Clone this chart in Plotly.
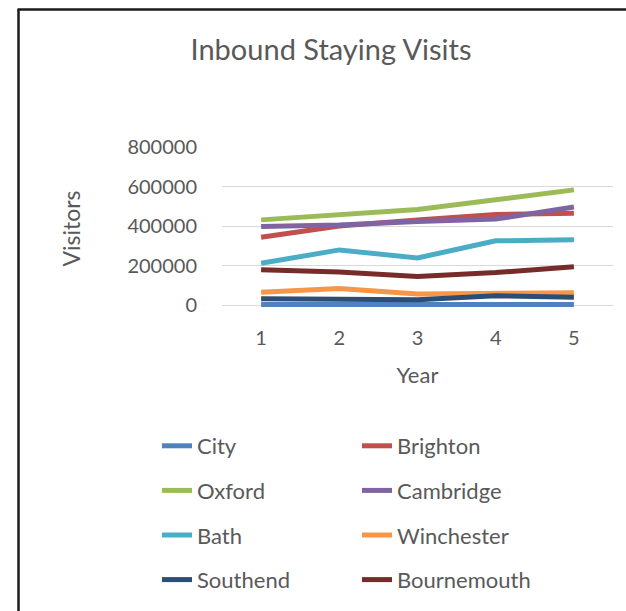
import plotly.graph_objects as go

years = [1, 2, 3, 4, 5]
year_labels = ["1", "2", "3", "4", "5"]

city = [3000, 3000, 3000, 3000, 3000]
brighton = [343000, 400000, 431000, 458000, 465000]
oxford = [431000, 458000, 484000, 533000, 583000]
cambridge = [397000, 405000, 423000, 435000, 496000]
bath = [211000, 279000, 238000, 325000, 330000]
winchester = [64000, 83000, 56000, 59000, 62000]
southend = [32000, 29000, 27000, 47000, 39000]
bournemouth = [178000, 167000, 144000, 164000, 194000]

series_names = ["City", "Brighton", "Oxford", "Cambridge", "Bath", "Winchester", "Southend", "Bournemouth"]
series_values = [city, brighton, oxford, cambridge, bath, winchester, southend, bournemouth]
colors = ["#4F81BD", "#C0504D", "#9BBB59", "#8064A2", "#4BACC6", "#F79646", "#2C4D75", "#772C2A"]
y_ticks = [0, 200000, 400000, 600000, 800000]

FONT = "Lato"
GREY = "#595959"

W, H = 626, 611
PL, PR, PT, PB = 222, 613, 147, 310  # plot area pixels


def px_x(x):
    return (x - PL) / (PR - PL)


def px_y(y):
    return (PB - y) / (PB - PT)


fig = go.Figure()
for i, (name, vals, col) in enumerate(zip(series_names, series_values, colors)):
    fig.add_trace(go.Scatter(
        x=years, y=vals, name=name, mode="lines",
        line=dict(color=col, width=5),
        legend="legend" if i % 2 == 0 else "legend2",
        legendgroup=name,
    ))

ymax = 800000
ymin = -ymax * (PB - 305) / (305 - PT)

legend_common = dict(
    orientation="v", yanchor="top", xanchor="left",
    font=dict(family=FONT, size=22, color=GREY),
    tracegroupgap=13, bgcolor="rgba(0,0,0,0)", borderwidth=0,
)

fig.update_layout(
    width=W, height=H,
    margin=dict(l=PL, r=W - PR, t=PT, b=H - PB, pad=0, autoexpand=False),
    paper_bgcolor="white", plot_bgcolor="white",
    font=dict(family=FONT, color=GREY),
    title=dict(text="Inbound Staying Visits", x=331 / W, xanchor="center",
               y=1 - 50 / H, yanchor="middle", yref="container",
               font=dict(family=FONT, size=29, color=GREY)),
    xaxis=dict(
        tickmode="array", tickvals=years, ticktext=year_labels,
        range=[0.5, 5.5], showgrid=False, zeroline=False, showline=False,
        ticks="", ticklabelstandoff=14, automargin=False,
        tickfont=dict(family=FONT, size=20, color=GREY),
        title=dict(text="Year", font=dict(family=FONT, size=22, color=GREY), standoff=19),
    ),
    yaxis=dict(
        tickmode="array", tickvals=y_ticks, ticktext=[str(v) for v in y_ticks],
        range=[ymin, ymax], showgrid=True, gridcolor="#D9D9D9", gridwidth=1,
        zeroline=False, showline=False, ticks="", ticklabelstandoff=24, automargin=False,
        tickfont=dict(family=FONT, size=20, color=GREY),
        title=dict(text="Visitors", font=dict(family=FONT, size=23, color=GREY), standoff=40),
    ),
    legend=dict(x=px_x(157), y=px_y(425), **legend_common),
    legend2=dict(x=px_x(357), y=px_y(425), **legend_common),
    shapes=[
        dict(type="line", xref="paper", yref="paper",
             x0=px_x(18.5), x1=px_x(18.5), y0=px_y(H + 2), y1=px_y(9.5),
             line=dict(color="#1A1A1A", width=2.5)),
        dict(type="line", xref="paper", yref="paper",
             x0=px_x(17.5), x1=px_x(W + 2), y0=px_y(9.5), y1=px_y(9.5),
             line=dict(color="#1A1A1A", width=2.5)),
    ],
)

fig.write_html(
    "out.html",
    config={"displayModeBar": False},
    post_script="document.body.style.margin='0';document.body.style.overflow='hidden';",
)
